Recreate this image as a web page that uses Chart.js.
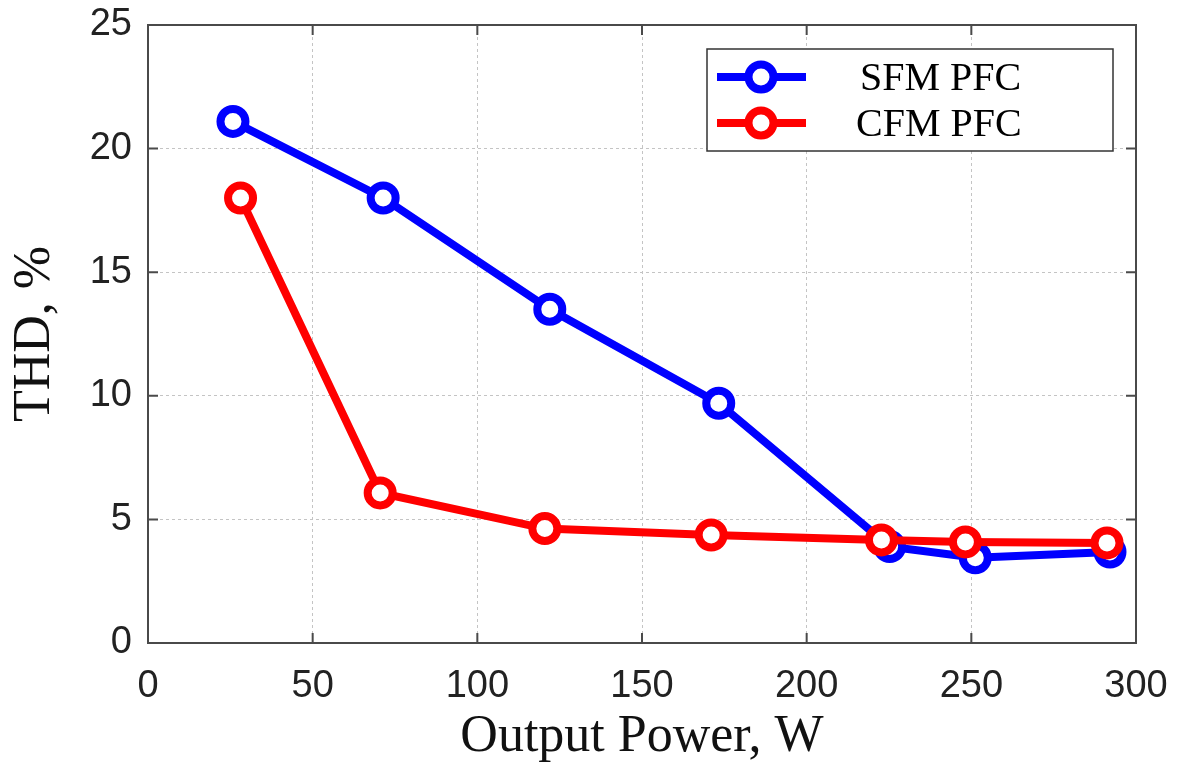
<!DOCTYPE html>
<html>
<head>
<meta charset="utf-8">
<script src="https://cdn.jsdelivr.net/npm/chart.js@4"></script>
<style>
  html, body { margin: 0; padding: 0; background: #ffffff; }
  #wrap { width: 1186px; height: 772px; }
</style>
</head>
<body>
<div id="wrap"><canvas id="thdChart" width="1186" height="772"></canvas></div>
<script>
const seriesNames = ['SFM PFC', 'CFM PFC'];
const seriesColors = ['#0000ff', '#ff0000'];
const powerSfm = [25.8, 71.4, 122.0, 173.3, 225.2, 251.2, 292.1];
const thdSfm = [21.1, 18.0, 13.5, 9.7, 3.9, 3.45, 3.68];
const powerCfm = [28.1, 70.5, 120.5, 171.0, 222.7, 248.2, 291.2];
const thdCfm = [18.0, 6.07, 4.63, 4.37, 4.17, 4.09, 4.05];
const xTicks = [0, 50, 100, 150, 200, 250, 300];
const yTicks = [0, 5, 10, 15, 20, 25];

const frameColor = '#4a4a4a';
const gridColor = '#c4c4c4';

function toPoints(xs, ys) {
  return xs.map((x, i) => ({ x: x, y: ys[i] }));
}

function makeSeries(i, xs, ys, order) {
  return {
    label: seriesNames[i],
    data: toPoints(xs, ys),
    showLine: true,
    borderColor: seriesColors[i],
    borderWidth: 8,
    pointRadius: 12.5,
    pointHoverRadius: 12.5,
    pointBorderWidth: 8,
    pointBackgroundColor: '#ffffff',
    pointBorderColor: seriesColors[i],
    tension: 0,
    order: order
  };
}

// box around the plot with inward tick marks on all four sides
const framePlugin = {
  id: 'frame',
  beforeDatasetsDraw(chart) {
    const { ctx, chartArea: a, scales } = chart;
    ctx.save();
    ctx.strokeStyle = frameColor;
    ctx.lineWidth = 2;
    ctx.strokeRect(a.left, a.top, a.right - a.left, a.bottom - a.top);
    const len = 10;
    ctx.beginPath();
    xTicks.forEach(v => {
      const px = scales.x.getPixelForValue(v);
      ctx.moveTo(px, a.bottom); ctx.lineTo(px, a.bottom - len);
      ctx.moveTo(px, a.top); ctx.lineTo(px, a.top + len);
    });
    yTicks.forEach(v => {
      const py = scales.y.getPixelForValue(v);
      ctx.moveTo(a.left, py); ctx.lineTo(a.left + len, py);
      ctx.moveTo(a.right, py); ctx.lineTo(a.right - len, py);
    });
    ctx.stroke();
    ctx.restore();
  }
};

// MATLAB-style legend box: line sample with circle marker, serif labels
const legendPlugin = {
  id: 'boxLegend',
  afterDraw(chart) {
    const ctx = chart.ctx;
    const box = { left: 707, top: 49, width: 406, height: 102 };
    ctx.save();
    ctx.fillStyle = '#ffffff';
    ctx.fillRect(box.left, box.top, box.width, box.height);
    ctx.strokeStyle = '#333333';
    ctx.lineWidth = 1.5;
    ctx.strokeRect(box.left, box.top, box.width, box.height);
    chart.data.datasets.forEach((ds, i) => {
      const cy = box.top + 28 + i * 46;
      ctx.strokeStyle = ds.borderColor;
      ctx.lineWidth = 8;
      ctx.beginPath();
      ctx.moveTo(717, cy);
      ctx.lineTo(806, cy);
      ctx.stroke();
      ctx.beginPath();
      ctx.arc(761, cy, 12.5, 0, Math.PI * 2);
      ctx.fillStyle = '#ffffff';
      ctx.fill();
      ctx.stroke();
      ctx.fillStyle = '#000000';
      ctx.font = '40px "Liberation Serif", "Times New Roman", serif';
      ctx.textBaseline = 'middle';
      ctx.textAlign = 'left';
      ctx.fillText(ds.label, i === 0 ? 860 : 856, cy + 2);
    });
    ctx.restore();
  }
};

const tickFont = { family: '"Liberation Sans", Arial, sans-serif', size: 38 };
const titleFont = { family: '"Liberation Serif", "Times New Roman", serif', size: 52 };

new Chart(document.getElementById('thdChart').getContext('2d'), {
  type: 'scatter',
  data: {
    datasets: [
      makeSeries(0, powerSfm, thdSfm, 1),
      makeSeries(1, powerCfm, thdCfm, 0)
    ]
  },
  options: {
    responsive: false,
    animation: false,
    devicePixelRatio: 1,
    layout: { padding: { top: 25, right: 50, left: 0, bottom: 0 } },
    plugins: {
      legend: { display: false },
      tooltip: { enabled: false }
    },
    scales: {
      x: {
        type: 'linear',
        min: 0,
        max: 300,
        afterFit(scale) {
          scale.height = 129;
          scale.paddingLeft = 0;
          scale.paddingRight = 0;
        },
        afterBuildTicks(scale) { scale.ticks = xTicks.map(v => ({ value: v })); },
        grid: { color: gridColor, lineWidth: 1, drawTicks: false },
        border: { display: false, dash: [3, 3] },
        ticks: { color: '#222222', font: tickFont, padding: 21, maxRotation: 0 },
        title: {
          display: true,
          text: 'Output Power, W',
          color: '#111111',
          font: titleFont,
          padding: { top: 0, bottom: 3 }
        }
      },
      y: {
        type: 'linear',
        min: 0,
        max: 25,
        afterFit(scale) {
          scale.width = 148;
          scale.paddingTop = 0;
          scale.paddingBottom = 0;
        },
        afterBuildTicks(scale) { scale.ticks = yTicks.map(v => ({ value: v })); },
        grid: { color: gridColor, lineWidth: 1, drawTicks: false },
        border: { display: false, dash: [3, 3] },
        ticks: { color: '#222222', font: tickFont, padding: 16 },
        title: {
          display: true,
          text: 'THD, %',
          color: '#111111',
          font: titleFont,
          padding: { top: 4, bottom: 0 }
        }
      }
    }
  },
  plugins: [framePlugin, legendPlugin]
});
</script>
</body>
</html>
